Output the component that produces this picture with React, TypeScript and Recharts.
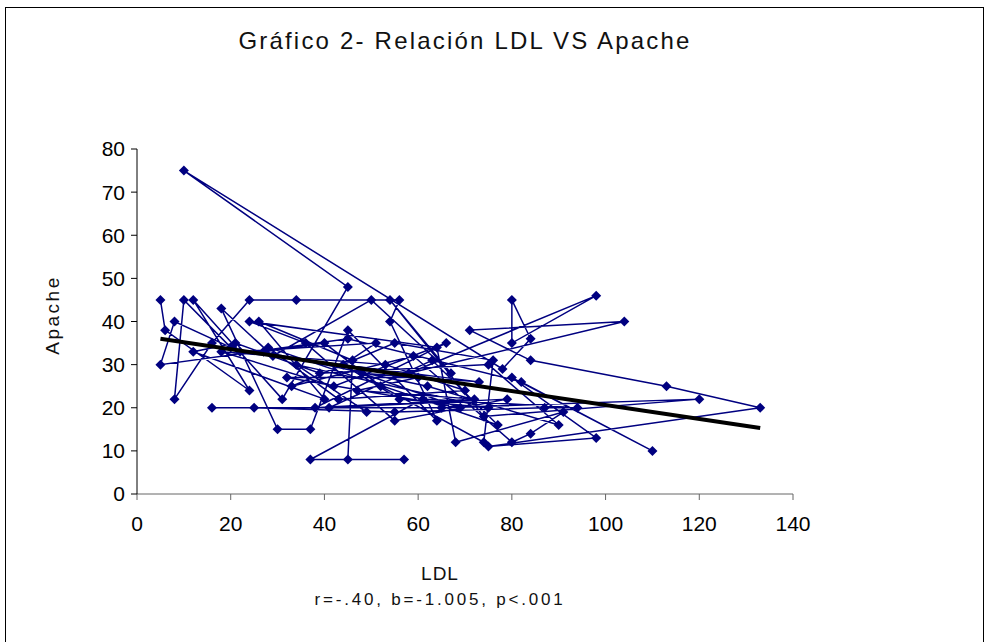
import React from 'react';
import { ScatterChart, Scatter, XAxis, YAxis } from 'recharts';

// LDL (x) and Apache (y), in the order the lines join them
const ldl = [
  5, 6, 24, 12, 31, 45, 10, 78, 84, 80, 80, 98, 58, 104, 71, 84, 113, 133, 75, 98,
  80, 110, 82, 45, 5, 8, 20, 10, 8, 16, 24, 34, 56, 54, 64, 45, 37, 30, 18, 29,
  50, 67, 54, 74, 120, 65, 16, 25, 55, 87, 94, 61, 37, 57, 45, 46, 26, 40, 12, 21,
  39, 75, 90, 62, 27, 40, 52, 74, 76, 55, 33, 59, 80, 84, 91, 68, 64, 24, 36, 55,
  79, 41, 63, 77, 28, 43, 70, 53, 18, 42, 66, 38, 72, 47, 60, 32, 69, 48, 73, 22,
  51, 44, 56, 75, 34, 49,
];
const apache = [
  45, 38, 24, 45, 22, 48, 75, 29, 36, 45, 35, 46, 28, 40, 38, 31, 25, 20, 11, 13,
  27, 10, 26, 36, 30, 40, 34, 45, 22, 35, 45, 45, 45, 40, 17, 38, 15, 15, 43, 32,
  45, 28, 45, 18, 22, 20, 20, 20, 19, 20, 20, 22, 8, 8, 8, 31, 40, 22, 33, 35,
  28, 30, 16, 25, 33, 35, 25, 12, 31, 35, 25, 32, 12, 14, 19, 12, 34, 40, 35, 17,
  22, 20, 31, 16, 34, 22, 24, 30, 33, 25, 35, 20, 22, 24, 27, 27, 20, 28, 26, 33,
  35, 30, 22, 20, 30, 19,
];

// linear trend line end points
const trendX = [5, 133];
const trendY = [36, 15.3];

const xTicks = [0, 20, 40, 60, 80, 100, 120, 140];
const yTicks = [0, 10, 20, 30, 40, 50, 60, 70, 80];

const points = ldl.map((x, i) => ({ x, y: apache[i] }));
const trend = trendX.map((x, i) => ({ x, y: trendY[i] }));

const Diamond = (props: any) => {
  const { cx, cy } = props;
  const r = 5;
  return (
    <polygon
      points={`${cx},${cy - r} ${cx + r},${cy} ${cx},${cy + r} ${cx - r},${cy}`}
      fill="#000080"
    />
  );
};

const labelFont = 'Liberation Sans, Arial, sans-serif';
const tickStyle = { fill: '#000', fontSize: 21, fontFamily: labelFont };

export default function App() {
  return (
    <div style={{ position: 'absolute', left: 0, top: 0, width: 986, height: 642, background: '#fff', overflow: 'hidden' }}>
      <div
        style={{
          position: 'absolute',
          left: 5,
          top: 7,
          width: 977,
          height: 660,
          border: '1px solid #000',
        }}
      />
      <div
        style={{
          position: 'absolute',
          left: 0,
          width: 930,
          top: 27,
          textAlign: 'center',
          fontFamily: labelFont,
          fontSize: 24,
          letterSpacing: 2.2,
          color: '#111',
        }}
      >
        Gráfico 2- Relación LDL VS Apache
      </div>
      <div
        style={{
          position: 'absolute',
          left: 53,
          top: 315,
          transform: 'translate(-50%, -50%) rotate(-90deg)',
          fontFamily: labelFont,
          fontSize: 19,
          letterSpacing: 2.5,
          color: '#111',
          whiteSpace: 'nowrap',
        }}
      >
        Apache
      </div>
      <div
        style={{
          position: 'absolute',
          left: 240,
          width: 400,
          top: 563,
          textAlign: 'center',
          fontFamily: labelFont,
          fontSize: 19,
          letterSpacing: 1,
          color: '#111',
        }}
      >
        LDL
      </div>
      <div
        style={{
          position: 'absolute',
          left: 240,
          width: 400,
          top: 590,
          textAlign: 'center',
          fontFamily: labelFont,
          fontSize: 17,
          letterSpacing: 2.8,
          color: '#111',
        }}
      >
        r=-.40, b=-1.005, p&lt;.001
      </div>
      <div style={{ position: 'absolute', left: 0, top: 0 }}>
        <ScatterChart width={986} height={642} margin={{ top: 149, right: 193, bottom: 118, left: 77 }}>
          <XAxis
            type="number"
            dataKey="x"
            domain={[0, 140]}
            ticks={xTicks}
            allowDataOverflow
            height={30}
            tick={tickStyle}
            tickSize={6}
            tickMargin={16}
            stroke="#666"
          />
          <YAxis
            type="number"
            dataKey="y"
            domain={[0, 80]}
            ticks={yTicks}
            allowDataOverflow
            width={60}
            tick={tickStyle}
            tickSize={6}
            tickMargin={6}
            stroke="#000"
          />
          <Scatter
            data={points}
            fill="#000080"
            shape={Diamond}
            line={{ stroke: '#000080', strokeWidth: 1.5 }}
            isAnimationActive={false}
          />
          <Scatter
            data={trend}
            shape={() => <g />}
            line={{ stroke: '#000', strokeWidth: 4 }}
            isAnimationActive={false}
          />
        </ScatterChart>
      </div>
    </div>
  );
}
